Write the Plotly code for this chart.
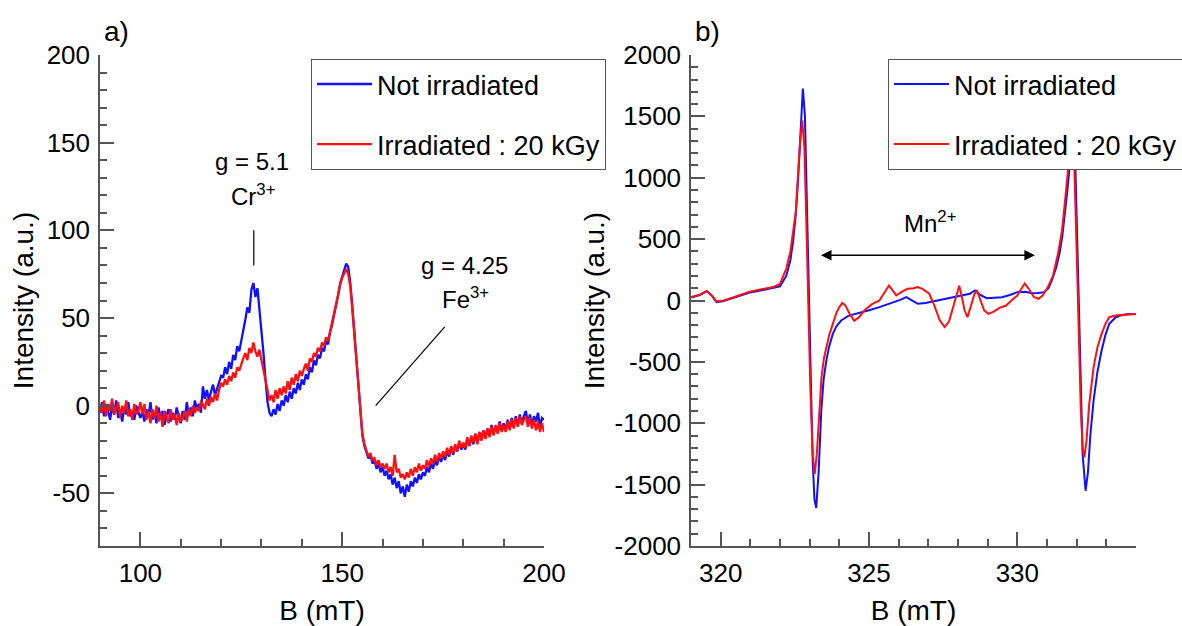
import plotly.graph_objects as go

# ---------------- panel a) : 90-200 mT, one point every 0.5 mT ----------------
b_a = [90 + 0.5 * k for k in range(221)]

a_not_irr = (
    [-4]
    + [2, -6, 1, -3, -8, 0, -5, 3, -7, -2]            # 90.5 - 95
    + [-9, -1, -5, 2, -6, -3, -8, 0, -4, -7]          # 95.5 - 100
    + [-3, -9, -2, -6, 2, -8, -4, -10, -1, -7]        # 100.5 - 105
    + [-3, -11, -5, -2, -9, -4, -8, -1, -6, -10]      # 105.5 - 110
    + [-3, -8, 2, -5, -1, -6, 3, -2, 1, -4]           # 110.5 - 115
    + [11, 4, 9, 3, 8, 12, 6, 10, 14, 17]             # 115.5 - 120
    + [16, 22, 18, 25, 21, 29, 26, 34, 31, 38]        # 120.5 - 125
    + [43, 49, 56, 53, 66, 70, 62, 67, 55, 45]        # 125.5 - 130
    + [30, 15, 2, -4, -6, -2, -5, 1, -3, 3]           # 130.5 - 135
    + [0, 6, 2, 8, 4, 10, 7, 13, 9, 15]               # 135.5 - 140
    + [12, 18, 15, 22, 19, 26, 23, 29, 27, 33]        # 140.5 - 145
    + [31, 37, 35, 42, 46, 52, 57, 63, 70, 74]        # 145.5 - 150
    + [78, 81, 79, 70, 57, 42, 27, 11, -4, -17]       # 150.5 - 155
    + [-23, -27, -30, -28, -33, -31, -36, -33, -38, -35]  # 155.5 - 160
    + [-40, -37, -42, -39, -45, -41, -47, -43, -50, -46]  # 160.5 - 165
    + [-52, -45, -49, -43, -46, -41, -44, -39, -42, -38]  # 165.5 - 170
    + [-40, -35, -38, -33, -36, -31, -34, -29, -32, -28]  # 170.5 - 175
    + [-31, -26, -29, -24, -28, -23, -26, -21, -25, -22]  # 175.5 - 180
    + [-25, -19, -23, -18, -22, -16, -21, -15, -19, -14]  # 180.5 - 185
    + [-18, -13, -17, -11, -16, -12, -15, -9, -14, -10]   # 185.5 - 190
    + [-14, -8, -13, -7, -12, -6, -11, -5, -10, -6]       # 190.5 - 195
    + [-3, -10, -5, -11, -6, -9, -4, -12, -7, -8]         # 195.5 - 200
)

a_irr = (
    [0]
    + [-4, 3, -6, 1, -3, 4, -5, -1, 2, -7]
    + [0, -4, 3, -6, -2, -8, 1, -5, -3, 2]
    + [-5, 1, -8, -3, -10, -2, -7, 0, -9, -4]
    + [-12, -3, -6, -10, -2, -8, -5, -11, -4, -9]
    + [-7, -3, -9, -2, -6, 0, -4, -1, -3, 2]
    + [1, -2, 4, 0, 5, 2, 7, 3, 9, 13]
    + [11, 15, 12, 17, 14, 19, 16, 22, 20, 24]
    + [27, 30, 26, 33, 30, 36, 31, 28, 32, 26]
    + [20, 14, 8, 3, 6, 2, 9, 4, 10, 6]
    + [11, 7, 14, 9, 16, 12, 18, 14, 20, 17]
    + [21, 24, 20, 27, 25, 30, 28, 33, 31, 36]
    + [34, 39, 37, 43, 47, 53, 58, 64, 69, 73]
    + [76, 78, 75, 68, 55, 40, 26, 10, -4, -16]
    + [-22, -26, -29, -27, -31, -30, -34, -31, -35, -33]
    + [-36, -33, -38, -35, -40, -28, -38, -36, -41, -39]
    + [-42, -38, -41, -36, -40, -35, -38, -33, -37, -34]
    + [-36, -31, -35, -30, -33, -28, -32, -27, -30, -26]
    + [-29, -24, -28, -23, -27, -22, -26, -20, -24, -21]
    + [-24, -18, -23, -17, -21, -16, -22, -15, -20, -14]
    + [-19, -13, -18, -12, -17, -11, -16, -10, -15, -11]
    + [-15, -9, -14, -8, -13, -7, -12, -6, -11, -8]
    + [-6, -12, -7, -13, -8, -14, -9, -15, -10, -15]
)

# ---------------- panel b) : Mn2+ region ----------------
b_b_not_irr = [319.0, 319.3, 319.53, 319.7, 319.86, 320.1, 320.41, 320.7, 320.98, 321.3,
               321.54, 321.8, 322.0, 322.21, 322.35, 322.44, 322.53, 322.6, 322.7, 322.77,
               322.84, 322.9, 322.96, 323.03, 323.1, 323.16, 323.22, 323.3, 323.39, 323.47,
               323.56, 323.66, 323.78, 323.9, 324.06, 324.3, 324.58, 325.0, 325.35, 325.85,
               326.05, 326.26, 326.45, 326.64, 326.9, 327.2, 327.55, 327.9, 328.19, 328.4,
               328.57, 328.75, 328.97, 329.2, 329.48, 329.75, 330.0, 330.25, 330.51, 330.7,
               330.9, 331.05, 331.16, 331.3, 331.42, 331.52, 331.61, 331.68, 331.74, 331.8,
               331.87, 331.93, 332.0, 332.07, 332.14, 332.2, 332.3, 332.38, 332.46, 332.57,
               332.7, 332.84, 332.97, 333.1, 333.3, 333.47, 333.7, 334.0]
b_not_irr = [24, 45, 76, 40, -14, -5, 20, 45, 65, 80,
             92, 100, 115, 200, 330, 480, 700, 950, 1450, 1726,
             1500, 800, 100, -700, -1300, -1620, -1690, -1400, -900, -640,
             -490, -370, -272, -210, -163, -125, -109, -80, -54, -14,
             5, 27, 0, -27, -20, -5, 14, 30, 41, 55,
             82, 45, 19, 20, 27, 45, 68, 72, 60, 62,
             68, 100, 163, 260, 380, 530, 707, 880, 1033, 1300,
             1540, 1350, 700, -100, -800, -1250, -1550, -1400, -1100, -816,
             -580, -408, -280, -190, -140, -122, -112, -109]

b_b_irr = [319.0, 319.3, 319.53, 319.7, 319.86, 320.1, 320.41, 320.7, 320.98, 321.3,
           321.54, 321.8, 322.0, 322.21, 322.35, 322.44, 322.53, 322.6, 322.68, 322.75,
           322.82, 322.88, 322.95, 323.02, 323.1, 323.17, 323.24, 323.32, 323.4, 323.48,
           323.56, 323.66, 323.78, 323.9, 324.0, 324.1, 324.2, 324.35, 324.5, 324.65,
           324.85, 325.1, 325.35, 325.5, 325.67, 325.8, 325.92, 326.1, 326.3, 326.5,
           326.64, 326.8, 327.03, 327.2, 327.38, 327.55, 327.7, 327.85, 328.0, 328.04,
           328.12, 328.22, 328.32, 328.42, 328.55, 328.64, 328.75, 328.88, 329.03, 329.2,
           329.4, 329.62, 329.8, 330.0, 330.12, 330.25, 330.4, 330.55, 330.71, 330.85,
           331.03, 331.2, 331.37, 331.5, 331.61, 331.7, 331.78, 331.85, 331.92, 332.0,
           332.07, 332.14, 332.2, 332.26, 332.33, 332.42, 332.57, 332.7, 332.84, 332.97,
           333.1, 333.3, 333.47, 333.7, 334.0]
b_irr = [28, 48, 78, 42, -8, 0, 25, 52, 72, 88,
         100, 112, 135, 260, 400, 550, 720, 1000, 1300, 1468,
         1250, 700, 0, -700, -1250, -1413, -1250, -900, -620, -470,
         -380, -280, -190, -100, -54, -20, -40, -110, -165, -140,
         -80, -30, 0, 60, 122, 80, 41, 70, 95, 100,
         109, 95, 55, -40, -160, -217, -170, -40, 90, 120,
         40, -80, -136, -60, 50, 82, 0, -80, -109, -90,
         -60, -41, 0, 41, 90, 138, 90, 30, 14, 40,
         109, 200, 380, 560, 815, 1050, 1250, 1320, 1100, 400,
         -300, -900, -1200, -1278, -1150, -850, -544, -380, -272, -190,
         -136, -122, -118, -112, -109]

# tick labels (plain hyphen minus like the original)
a_xticks = [100, 150, 200]
a_yticks = [-50, 0, 50, 100, 150, 200]
b_xticks = [320, 325, 330]
b_yticks = [-2000, -1500, -1000, -500, 0, 500, 1000, 1500, 2000]

FONT = "Liberation Sans, Arial, sans-serif"
AX = "#555555"

fig = go.Figure()
fig.add_trace(go.Scatter(x=b_a, y=a_not_irr, mode="lines", name="Not irradiated",
                         line=dict(color="#1010ff", width=2.3), xaxis="x", yaxis="y",
                         legend="legend", legendgroup="a1"))
fig.add_trace(go.Scatter(x=b_a, y=a_irr, mode="lines", name="Irradiated : 20 kGy",
                         line=dict(color="#ff1010", width=2.3), xaxis="x", yaxis="y",
                         legend="legend", legendgroup="a2"))
fig.add_trace(go.Scatter(x=b_b_not_irr, y=b_not_irr, mode="lines", name="Not irradiated",
                         line=dict(color="#1010ff", width=2), xaxis="x2", yaxis="y2",
                         legend="legend2", legendgroup="b1"))
fig.add_trace(go.Scatter(x=b_b_irr, y=b_irr, mode="lines", name="Irradiated : 20 kGy",
                         line=dict(color="#ff1010", width=2), xaxis="x2", yaxis="y2",
                         legend="legend2", legendgroup="b2"))


def axis(rng, vals, minor_dtick, domain, anchor, title, standoff, lab_pad):
    return dict(
        domain=domain, anchor=anchor, range=rng, automargin=False,
        tickmode="array", tickvals=vals, ticktext=[str(v) for v in vals],
        ticks="inside", ticklen=14, tickwidth=1.5, tickcolor=AX,
        minor=dict(ticks="inside", ticklen=7, tickwidth=1.5, tickcolor=AX,
                   tickmode="linear", tick0=0, dtick=minor_dtick, showgrid=False),
        showline=True, linecolor=AX, linewidth=1.5,
        showgrid=False, zeroline=False,
        tickfont=dict(size=26, color="black", family=FONT),
        ticklabelstandoff=lab_pad,
        title=dict(text=title, font=dict(size=28, color="black", family=FONT), standoff=standoff),
    )


legend_style = dict(
    yanchor="top", xanchor="left", y=0.992,
    bgcolor="white", bordercolor=AX, borderwidth=1,
    font=dict(size=27, color="black", family=FONT),
    itemwidth=55, tracegroupgap=22, traceorder="grouped",
)

fig.update_layout(
    width=1182, height=626,
    margin=dict(l=100, r=46, t=55, b=80, autoexpand=False),
    paper_bgcolor="white", plot_bgcolor="white",
    font=dict(family=FONT, color="black"),
    xaxis=axis([90, 200], a_xticks, 10, [0, 0.4286], "y", "B (mT)", 24, 3),
    yaxis=axis([-80, 200], a_yticks, 10, [0, 1], "x", "Intensity (a.u.)", 5, 3),
    xaxis2=axis([319, 334], b_xticks, 1, [0.5705, 1], "y2", "B (mT)", 24, 3),
    yaxis2=axis([-2000, 2000], b_yticks, 100, [0, 1], "x2", "Intensity (a.u.)", 2, 3),
    legend=dict(x=0.2037, **legend_style),
    legend2=dict(x=0.7606, **legend_style),
    shapes=[
        dict(type="line", xref="x", yref="y", x0=128.1, y0=80, x1=128.1, y1=100,
             line=dict(color="black", width=1.2)),
        dict(type="line", xref="x", yref="y", x0=158.3, y0=0, x1=175.4, y1=45,
             line=dict(color="black", width=1.2)),
    ],
    annotations=[
        dict(text="a)", xref="paper", yref="paper", x=0.0164, y=1.047, showarrow=False,
             xanchor="center", yanchor="middle", font=dict(size=28)),
        dict(text="b)", xref="paper", yref="paper", x=0.586, y=1.047, showarrow=False,
             xanchor="center", yanchor="middle", font=dict(size=28)),
        dict(text="g = 5.1", xref="x", yref="y", x=127.6, y=139, showarrow=False,
             font=dict(size=24)),
        dict(text="Cr<sup>3+</sup>", xref="x", yref="y", x=127.8, y=120, showarrow=False,
             font=dict(size=24)),
        dict(text="g = 4.25", xref="x", yref="y", x=180.3, y=80, showarrow=False,
             font=dict(size=24)),
        dict(text="Fe<sup>3+</sup>", xref="x", yref="y", x=180.5, y=61.5, showarrow=False,
             font=dict(size=24)),
        dict(text="Mn<sup>2+</sup>", xref="x2", yref="y2", x=327.06, y=636, showarrow=False,
             font=dict(size=24)),
        dict(text="", xref="x2", yref="y2", x=330.59, y=369, axref="x2", ayref="y2",
             ax=323.33, ay=369, showarrow=True, arrowhead=2, arrowside="end+start",
             arrowsize=1.4, arrowwidth=1.5, arrowcolor="black"),
    ],
)

# page body has a default 8px margin; drop it so the figure sits at the window corner
fig.write_html("out.html", config={"displayModeBar": False},
               post_script="document.body.style.margin = '0';")
